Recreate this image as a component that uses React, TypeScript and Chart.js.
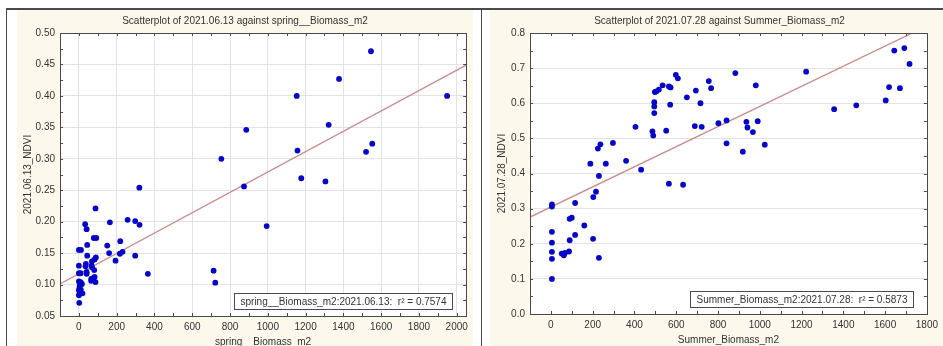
import React, { useEffect, useRef } from "react";
import { Chart, registerables } from "chart.js";

Chart.register(...registerables);

// ---------- data ----------
const springBiomass = [
  1546, 1377, 1153, 1949, 1322, 886, 1553, 1157, 1520, 754, 1177, 1305, 874, 320, 994, 713, 722, 365,
  88, 33, 41, 164, 258, 298, 321, 79, 92, 150, 219, 0, 11, 44, 160, 217, 231, 44, 90, 83, 298, 194,
  0, 37, 35, 67, 70, 81, 0, 9, 41, 41, 65, 76, 83, 88, 65, 0, 9, 16, 5, 3, 0, 5, 0, 2, 19, 10, 69,
];
const springNdvi = [
  0.471, 0.427, 0.4, 0.4, 0.354, 0.346, 0.324, 0.313, 0.311, 0.3, 0.269, 0.264, 0.256, 0.254, 0.193, 0.122, 0.103, 0.117,
  0.221, 0.196, 0.188, 0.199, 0.203, 0.201, 0.195, 0.174, 0.174, 0.162, 0.169, 0.155, 0.155, 0.163, 0.15, 0.149, 0.152, 0.146, 0.143, 0.14, 0.146, 0.138,
  0.13, 0.133, 0.129, 0.13, 0.127, 0.123, 0.118, 0.118, 0.12, 0.117, 0.109, 0.11, 0.112, 0.104, 0.106, 0.105, 0.104, 0.101, 0.099, 0.095, 0.091, 0.089, 0.083, 0.071, 0.086, 0.092, 0.137,
];
const springFitX = [-100, 2050];
const springFitY = [0.101, 0.449];
const springXTicks = [0, 200, 400, 600, 800, 1000, 1200, 1400, 1600, 1800, 2000];
const springYTicks = [0.05, 0.1, 0.15, 0.2, 0.25, 0.3, 0.35, 0.4, 0.45, 0.5];

const summerBiomass = [
  1692, 1644, 1717, 1222, 883, 598, 608, 756, 694, 767, 981, 1619, 1671, 651, 1603, 1462, 1356, 535, 565, 573,
  517, 505, 498, 495, 495, 495, 571, 716, 405, 486, 490, 552, 689, 722, 802, 841, 936, 941, 990, 967,
  841, 1024, 919, 297, 225, 237, 360, 432, 263, 189, 230, 565, 633, 216, 203, 116, 5, 5, 90, 100,
  160, 116, 202, 90, 5, 5, 5, 5, 52, 62, 67, 87, 230, 5,
];
const summerNdvi = [
  0.757, 0.75, 0.712, 0.69, 0.686, 0.681, 0.671, 0.663, 0.636, 0.643, 0.651, 0.646, 0.643, 0.617, 0.608, 0.594, 0.583, 0.651, 0.648, 0.645,
  0.639, 0.634, 0.632, 0.603, 0.591, 0.572, 0.596, 0.6, 0.533, 0.52, 0.508, 0.522, 0.535, 0.533, 0.543, 0.551, 0.547, 0.531, 0.549, 0.518,
  0.486, 0.482, 0.462, 0.487, 0.471, 0.483, 0.436, 0.411, 0.428, 0.428, 0.393, 0.371, 0.368, 0.348, 0.333, 0.316, 0.312, 0.306, 0.271, 0.274,
  0.252, 0.225, 0.214, 0.21, 0.234, 0.203, 0.177, 0.157, 0.172, 0.167, 0.174, 0.178, 0.16, 0.1,
];
const summerFitX = [-100, 1800];
const summerFitY = [0.276, 0.82];
const summerXTicks = [0, 200, 400, 600, 800, 1000, 1200, 1400, 1600, 1800];
const summerYTicks = [0, 0.1, 0.2, 0.3, 0.4, 0.5, 0.6, 0.7, 0.8];

// ---------- styles ----------
const FONT = "'Liberation Sans', Arial, sans-serif";
const CREAM = "#fcf8ec";
const TEXT = "#333333";
const FRAME = "#4a4a4a";
const GRID = "#e3e3e3";
const DOT = "#0505c8";
const FIT = "#c98c8e";

type PanelProps = {
  left: number;
  width: number;
  title: string;
  xTitle: string;
  yTitle: string;
  r2Text: string;
  xs: number[];
  ys: number[];
  fitX: number[];
  fitY: number[];
  xTicks: number[];
  yTicks: number[];
  xMin: number;
  xMax: number;
  yMin: number;
  yMax: number;
  yDecimals: number;
  vGrid: boolean;
  axisW: number;
  axisH: number;
  pad: { left: number; top: number; right: number; bottom: number };
  yTitleX: number;
  titleShift: number;
};

function Panel(p: PanelProps) {
  const ref = useRef<HTMLCanvasElement | null>(null);
  useEffect(() => {
    const canvas = ref.current;
    if (!canvas) return;
    const decor = {
      id: "decor",
      beforeDraw(chart: any) {
        const { ctx, chartArea: a, width, height } = chart;
        ctx.save();
        ctx.fillStyle = CREAM;
        ctx.fillRect(0, 0, width, height);
        ctx.fillStyle = "#ffffff";
        ctx.fillRect(a.left, a.top, a.right - a.left, a.bottom - a.top);
        ctx.restore();
      },
      afterDraw(chart: any) {
        const { ctx, chartArea: a, width } = chart;
        const xs = chart.scales.x;
        const ys = chart.scales.y;
        ctx.save();
        // frame
        ctx.strokeStyle = FRAME;
        ctx.lineWidth = 1;
        ctx.strokeRect(Math.round(a.left) + 0.5, Math.round(a.top) + 0.5, Math.round(a.right - a.left), Math.round(a.bottom - a.top));
        // inward ticks (major + half steps)
        const tl = 3;
        const xStep = p.xTicks[1] - p.xTicks[0];
        const yStep = p.yTicks[1] - p.yTicks[0];
        ctx.beginPath();
        for (let v = p.xTicks[0] - xStep; v <= p.xMax + 1e-9; v += xStep / 2) {
          if (v < p.xMin - 1e-9) continue;
          const px = Math.round(xs.getPixelForValue(v)) + 0.5;
          ctx.moveTo(px, a.top);
          ctx.lineTo(px, a.top + tl);
          ctx.moveTo(px, a.bottom);
          ctx.lineTo(px, a.bottom - tl);
        }
        for (let v = p.yTicks[0]; v <= p.yMax + 1e-9; v += yStep / 2) {
          const py = Math.round(ys.getPixelForValue(v)) + 0.5;
          ctx.moveTo(a.left, py);
          ctx.lineTo(a.left + tl, py);
          ctx.moveTo(a.right, py);
          ctx.lineTo(a.right - tl, py);
        }
        ctx.stroke();
        // titles
        ctx.fillStyle = TEXT;
        ctx.font = `10px ${FONT}`;
        ctx.textAlign = "center";
        ctx.textBaseline = "middle";
        ctx.fillText(p.title, width / 2 + p.titleShift, a.top - 12);
        const cx = (a.left + a.right) / 2;
        ctx.fillText(p.xTitle, cx, a.bottom + 26);
        ctx.save();
        ctx.translate(p.yTitleX, (a.top + a.bottom) / 2);
        ctx.rotate(-Math.PI / 2);
        ctx.fillText(p.yTitle, 0, 0);
        ctx.restore();
        // r2 box
        ctx.font = `10px ${FONT}`;
        const tw = ctx.measureText(p.r2Text).width;
        const bw = Math.round(tw + 12);
        const bh = 16;
        const bx = Math.round(a.right - 14 - bw) + 0.5;
        const by = Math.round(a.bottom - 7 - bh) + 0.5;
        ctx.fillStyle = "#ffffff";
        ctx.fillRect(bx, by, bw, bh);
        ctx.strokeStyle = FRAME;
        ctx.strokeRect(bx, by, bw, bh);
        ctx.fillStyle = TEXT;
        ctx.textAlign = "left";
        ctx.fillText(p.r2Text, bx + 6, by + bh / 2 + 0.5);
        ctx.restore();
      },
    };
    const chart = new Chart(canvas, {
      type: "scatter",
      data: {
        datasets: [
          {
            type: "line",
            data: p.fitX.map((x, i) => ({ x, y: p.fitY[i] })),
            borderColor: FIT,
            borderWidth: 1.3,
            pointRadius: 0,
            fill: false,
            order: 2,
          } as any,
          {
            type: "scatter",
            data: p.xs.map((x, i) => ({ x, y: p.ys[i] })),
            backgroundColor: DOT,
            borderColor: DOT,
            borderWidth: 0,
            pointRadius: 2.9,
            order: 1,
          },
        ],
      },
      options: {
        animation: false,
        responsive: false,
        maintainAspectRatio: false,
        events: [],
        layout: { padding: p.pad },
        plugins: {
          legend: { display: false },
          title: { display: false },
          tooltip: { enabled: false },
        },
        scales: {
          x: {
            type: "linear",
            min: p.xMin,
            max: p.xMax,
            afterBuildTicks: (s: any) => {
              s.ticks = p.xTicks.map((v) => ({ value: v }));
            },
            afterFit: (s: any) => {
              s.height = p.axisH;
            },
            border: { display: false },
            grid: { display: p.vGrid, color: GRID, drawTicks: false, lineWidth: 1 },
            ticks: {
              padding: 5,
              autoSkip: false,
              maxRotation: 0,
              minRotation: 0,
              color: TEXT,
              font: { family: FONT, size: 10 },
              callback: (v: any) => String(v),
            },
          },
          y: {
            type: "linear",
            min: p.yMin,
            max: p.yMax,
            afterBuildTicks: (s: any) => {
              s.ticks = p.yTicks.map((v) => ({ value: v }));
            },
            afterFit: (s: any) => {
              s.width = p.axisW;
            },
            border: { display: false },
            grid: { color: GRID, drawTicks: false, lineWidth: 1 },
            ticks: {
              padding: 5,
              autoSkip: false,
              color: TEXT,
              font: { family: FONT, size: 10 },
              callback: (v: any) => Number(v).toFixed(p.yDecimals),
            },
          },
        },
      },
      plugins: [decor],
    } as any);
    return () => chart.destroy();
  }, []);
  return (
    <canvas
      ref={ref}
      width={p.width}
      height={336}
      style={{ position: "absolute", left: p.left, top: 10, width: p.width, height: 336 }}
    />
  );
}

export default function App() {
  return (
    <div style={{ position: "fixed", left: 0, top: 0, width: 943, height: 346, background: "#ffffff", overflow: "hidden" }}>
      <Panel
        left={17}
        width={456}
        title="Scatterplot of 2021.06.13 against spring__Biomass_m2"
        xTitle="spring__Biomass_m2"
        yTitle="2021.06.13_NDVI"
        r2Text="spring__Biomass_m2:2021.06.13:  r² = 0.7574"
        xs={springBiomass}
        ys={springNdvi}
        fitX={springFitX}
        fitY={springFitY}
        xTicks={springXTicks}
        yTicks={springYTicks}
        xMin={-100}
        xMax={2050}
        yMin={0.05}
        yMax={0.5}
        yDecimals={2}
        vGrid={true}
        axisW={43}
        axisH={30}
        pad={{ left: 0, top: 23, right: 6, bottom: 0 }}
        yTitleX={11}
        titleShift={0}
      />
      <Panel
        left={490}
        width={453}
        title="Scatterplot of 2021.07.28 against Summer_Biomass_m2"
        xTitle="Summer_Biomass_m2"
        yTitle="2021.07.28_NDVI"
        r2Text="Summer_Biomass_m2:2021.07.28:  r² = 0.5873"
        xs={summerBiomass}
        ys={summerNdvi}
        fitX={summerFitX}
        fitY={summerFitY}
        xTicks={summerXTicks}
        yTicks={summerYTicks}
        xMin={-100}
        xMax={1800}
        yMin={0}
        yMax={0.8}
        yDecimals={1}
        vGrid={false}
        axisW={40}
        axisH={32}
        pad={{ left: 0, top: 23, right: 12, bottom: 0 }}
        yTitleX={12}
        titleShift={3}
      />
      <div style={{ position: "absolute", left: 6, top: 8, width: 937, height: 2, background: FRAME }} />
      <div style={{ position: "absolute", left: 6, top: 8, width: 1, height: 338, background: FRAME }} />
      <div style={{ position: "absolute", left: 481, top: 8, width: 1, height: 338, background: FRAME }} />
    </div>
  );
}
